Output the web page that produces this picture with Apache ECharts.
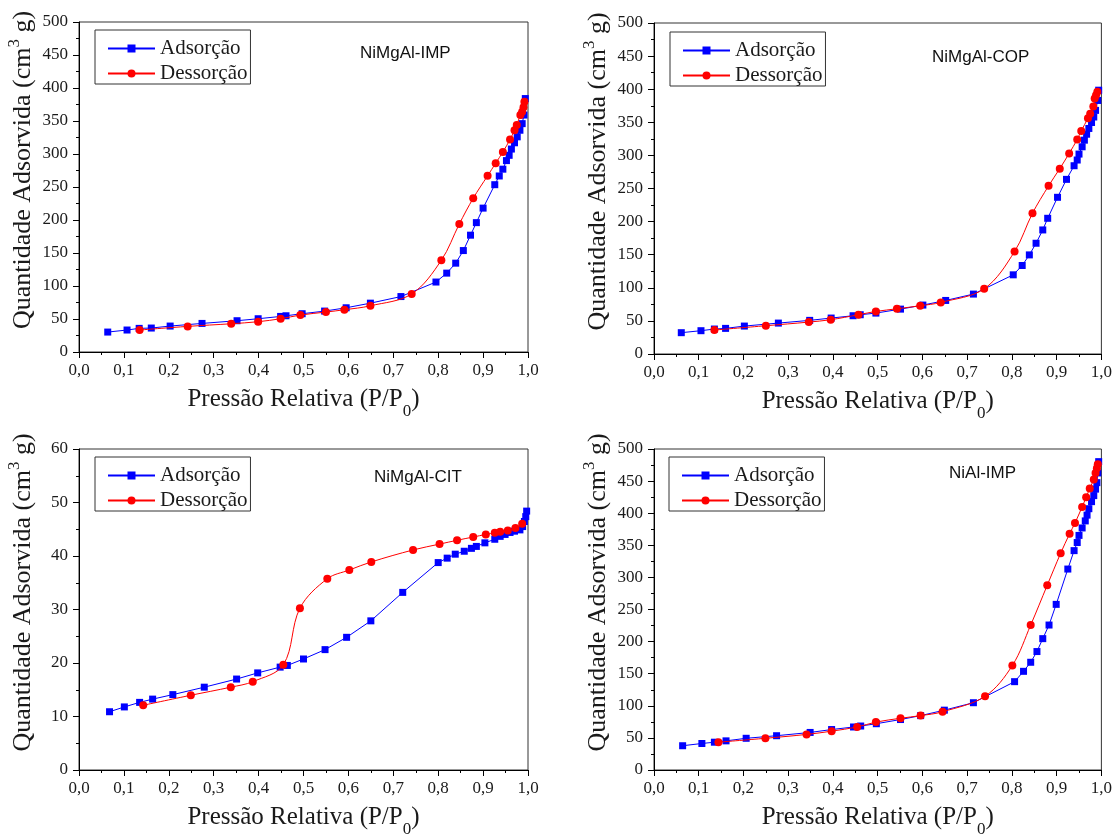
<!DOCTYPE html>
<html>
<head>
<meta charset="utf-8">
<script src="https://cdn.jsdelivr.net/npm/echarts@6/dist/echarts.min.js"></script>
<style>html,body{margin:0;padding:0;background:#fff;}#c{width:1115px;height:839px;}</style>
</head>
<body>
<div id="c"></div>
<script>
// ---------- DATA ----------
var sampleNames = ['NiMgAl-IMP', 'NiMgAl-COP', 'NiMgAl-CIT', 'NiAl-IMP'];
var seriesNames = ['Adsorção', 'Dessorção'];
var xTicks = [0, 0.1, 0.2, 0.3, 0.4, 0.5, 0.6, 0.7, 0.8, 0.9, 1.0];

var impAds = [[0.064,30.2],[0.107,33.3],[0.134,35.8],[0.161,36.3],[0.203,39.3],[0.274,43.3],[0.352,47.4],[0.399,50.4],[0.449,53.9],[0.461,54.9],[0.497,58],[0.547,62],[0.595,67],[0.649,74],[0.717,84],[0.795,106],[0.819,119.5],[0.839,134.6],[0.856,153.7],[0.872,177],[0.885,196],[0.900,218],[0.926,253.5],[0.936,266.7],[0.944,277],[0.952,290],[0.958,298],[0.963,307.5],[0.970,317],[0.976,326],[0.982,336],[0.987,346],[0.991,359],[0.994,384]];
var impDes = [[0.992,379],[0.990,371],[0.987,364],[0.983,359],[0.975,344],[0.970,336],[0.960,322],[0.944,303],[0.928,286],[0.910,267],[0.878,233],[0.847,194],[0.807,139],[0.741,88],[0.649,70],[0.591,64],[0.550,60.5],[0.493,56],[0.449,50.4],[0.399,45.9],[0.339,42.8],[0.242,38.8],[0.135,33.3]];

var copAds = [[0.061,32.2],[0.105,35.2],[0.135,37.7],[0.160,38.7],[0.202,42.2],[0.278,46.7],[0.348,50.8],[0.396,54.3],[0.445,57.8],[0.461,59.3],[0.496,61.8],[0.551,67.8],[0.601,73.9],[0.652,80.9],[0.714,90.5],[0.803,119.6],[0.823,133.7],[0.839,149.7],[0.854,167.3],[0.869,187.4],[0.880,205],[0.902,236.7],[0.922,263.8],[0.939,284.4],[0.946,293],[0.950,302],[0.957,313],[0.962,323],[0.967,332],[0.972,340.7],[0.978,349.7],[0.983,358],[0.987,368],[0.992,383],[0.994,398.5]];
var copDes = [[0.991,396],[0.988,391],[0.985,386],[0.982,374],[0.975,363],[0.970,356],[0.955,337],[0.946,324],[0.928,303],[0.907,280],[0.882,254],[0.846,212.6],[0.806,154.8],[0.738,98.5],[0.641,77.9],[0.595,72.9],[0.543,68.3],[0.496,64.3],[0.457,59.3],[0.395,51.8],[0.346,48.2],[0.250,42.7],[0.135,36.2]];

var citAds = [[0.068,10.89],[0.101,11.79],[0.135,12.64],[0.164,13.25],[0.209,14.09],[0.279,15.48],[0.351,17.0],[0.398,18.15],[0.448,19.23],[0.464,19.54],[0.500,20.75],[0.548,22.5],[0.596,24.8],[0.650,27.88],[0.721,33.2],[0.800,38.77],[0.820,39.6],[0.838,40.34],[0.858,40.89],[0.874,41.43],[0.885,41.79],[0.904,42.46],[0.926,43.13],[0.938,43.67],[0.949,44.03],[0.960,44.4],[0.970,44.64],[0.982,44.88],[0.988,45.5],[0.992,46.45],[0.995,47.36],[0.997,48.39]];
var citDes = [[0.987,46.03],[0.972,45.24],[0.955,44.76],[0.938,44.52],[0.926,44.33],[0.906,44.03],[0.878,43.55],[0.842,42.94],[0.803,42.22],[0.744,41.13],[0.651,38.89],[0.602,37.38],[0.553,35.75],[0.492,30.24],[0.455,19.66],[0.387,16.51],[0.338,15.48],[0.249,13.97],[0.143,12.1]];

var nialAds = [[0.064,37.8],[0.107,41.3],[0.135,43.3],[0.161,45.4],[0.206,49.4],[0.274,53.4],[0.349,58.5],[0.397,63.0],[0.446,67.0],[0.462,68.5],[0.497,72.1],[0.551,78.6],[0.596,84.7],[0.649,93.2],[0.714,104.8],[0.806,137.6],[0.826,153.7],[0.842,167.8],[0.856,184.5],[0.869,204.6],[0.883,225.8],[0.899,258],[0.925,313],[0.939,341.7],[0.946,354.3],[0.950,365.4],[0.957,377],[0.964,388],[0.968,397],[0.972,407],[0.978,418],[0.983,427.4],[0.987,437.5],[0.990,447.6],[0.992,462.7],[0.994,480.3]];
var nialDes = [[0.992,476.3],[0.990,470],[0.987,462.7],[0.983,452.6],[0.974,438.5],[0.966,424.9],[0.957,409.8],[0.941,384.6],[0.929,368],[0.909,337.7],[0.879,287.8],[0.842,225.8],[0.801,162.8],[0.740,114.9],[0.645,90.7],[0.596,84.7],[0.551,80.6],[0.496,74.6],[0.454,67.0],[0.397,60.5],[0.341,55.4],[0.249,49.4],[0.144,43.3]];

var yMax = [500, 500, 60, 500];
var yStep = [50, 50, 10, 50];
var adsSets = [impAds, copAds, citAds, nialAds];
var desSets = [impDes, copDes, citDes, nialDes];

// ---------- LAYOUT ----------
var grids = [
  {left: 79, top: 22, width: 449, height: 330},
  {left: 654, top: 23, width: 449, height: 331},
  {left: 79, top: 449, width: 449, height: 330},
  {left: 654, top: 449, width: 449, height: 330}
];
var legendPos = [{left: 95, top: 30}, {left: 670, top: 32}, {left: 95, top: 457}, {left: 669, top: 457}];
var labelPos = [{left: 360, top: 45}, {left: 932, top: 49}, {left: 374, top: 469}, {left: 949, top: 465}];

var serif = 'Liberation Serif, Times New Roman, serif';
var ink = '#1a1a1a';

var option = {
  backgroundColor: '#fff',
  animation: false,
  grid: [], xAxis: [], yAxis: [], series: [], legend: [], title: []
};

for (var i = 0; i < 4; i++) {
  var g = grids[i];
  option.grid.push({left: g.left, top: g.top, width: g.width, height: g.height,
    show: true, borderColor: '#333', borderWidth: 1, backgroundColor: 'transparent'});
  option.xAxis.push({
    type: 'value', gridIndex: i, min: 0, max: 1, interval: 0.1,
    name: '{a|Pressão Relativa (P/P}{s|0}{a|)}',
    nameLocation: 'middle', nameGap: 35,
    nameTextStyle: {rich: {
      a: {fontFamily: serif, fontSize: 25, color: ink, lineHeight: 29, verticalAlign: 'top'},
      s: {fontFamily: serif, fontSize: 17, color: ink, lineHeight: 17, padding: [16, 0, 0, 0], verticalAlign: 'top'}
    }},
    axisLine: {show: true, onZero: false, lineStyle: {color: '#000', width: 1}},
    axisTick: {show: true, inside: false, length: 6, lineStyle: {color: '#000'}},
    minorTick: {show: true, splitNumber: 2, length: 3, lineStyle: {color: '#000'}},
    splitLine: {show: false},
    axisLabel: {fontFamily: serif, fontSize: 17, color: ink, margin: 10,
      formatter: function (v) { return v.toFixed(1).replace('.', ','); }}
  });
  option.yAxis.push({
    type: 'value', gridIndex: i, min: 0, max: yMax[i], interval: yStep[i],
    name: '{a|Quantidade Adsorvida (cm}{p|3}{a| g)}',
    nameLocation: 'middle', nameGap: 43,
    nameTextStyle: {padding: [0, 0, 0, 34], rich: {
      a: {fontFamily: serif, fontSize: 26, color: ink, lineHeight: 30, verticalAlign: 'bottom'},
      p: {fontFamily: serif, fontSize: 17, color: ink, lineHeight: 17, verticalAlign: 'top'}
    }},
    axisLine: {show: true, onZero: false, lineStyle: {color: '#000', width: 1}},
    axisTick: {show: true, inside: false, length: 6, lineStyle: {color: '#000'}},
    minorTick: {show: true, splitNumber: 2, length: 3, lineStyle: {color: '#000'}},
    splitLine: {show: false},
    axisLabel: {fontFamily: serif, fontSize: 17, color: ink, margin: 11}
  });
  option.series.push({
    name: seriesNames[0], type: 'line', xAxisIndex: i, yAxisIndex: i,
    data: adsSets[i], symbol: 'rect', symbolSize: 7,
    itemStyle: {color: '#0000ff'}, lineStyle: {color: '#0000ff', width: 1}, z: 2
  });
  option.series.push({
    name: seriesNames[1], type: 'line', xAxisIndex: i, yAxisIndex: i,
    data: desSets[i], symbol: 'circle', symbolSize: 8, smooth: 0.35,
    itemStyle: {color: '#ff0000'}, lineStyle: {color: '#ff0000', width: 1}, z: 3
  });
  option.legend.push({
    data: seriesNames, orient: 'vertical', left: legendPos[i].left, top: legendPos[i].top,
    borderColor: '#333', borderWidth: 1, padding: [8, 3, 0, 12], itemGap: 4,
    itemWidth: 47, itemHeight: 10, selectedMode: false,
    textStyle: {fontFamily: serif, fontSize: 21, color: ink, lineHeight: 21}
  });
  option.title.push({
    text: sampleNames[i], left: labelPos[i].left, top: labelPos[i].top, padding: 0,
    textStyle: {fontFamily: 'Liberation Sans, Arial, sans-serif', fontSize: 17, fontWeight: 'normal', color: '#111'}
  });
}

var chart = echarts.init(document.getElementById('c'), null, {renderer: 'canvas'});
chart.setOption(option);
</script>
</body>
</html>
